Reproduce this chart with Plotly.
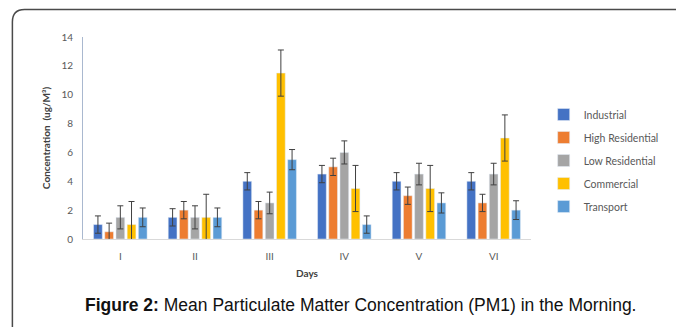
import plotly.graph_objects as go

days = ["I", "II", "III", "IV", "V", "VI"]
series_names = ["Industrial", "High Residential", "Low Residential", "Commercial", "Transport"]
industrial = [1.0, 1.5, 4.0, 4.5, 4.0, 4.0]
high_res = [0.5, 2.0, 2.0, 5.0, 3.0, 2.5]
low_res = [1.5, 1.5, 2.5, 6.0, 4.5, 4.5]
commercial = [1.0, 1.5, 11.5, 3.5, 3.5, 7.0]
transport = [1.5, 1.5, 5.5, 1.0, 2.5, 2.0]
err_industrial = [0.6, 0.6, 0.6, 0.6, 0.6, 0.6]
err_high_res = [0.6, 0.6, 0.6, 0.6, 0.6, 0.6]
err_low_res = [0.8, 0.8, 0.75, 0.8, 0.75, 0.75]
err_commercial = [1.6, 1.6, 1.6, 1.6, 1.6, 1.6]
err_transport = [0.65, 0.65, 0.7, 0.6, 0.7, 0.65]
colors = ["#4472C4", "#ED7D31", "#A5A5A5", "#FFC000", "#5B9BD5"]
y_ticks = [0, 2, 4, 6, 8, 10, 12, 14]

values = [industrial, high_res, low_res, commercial, transport]
errors = [err_industrial, err_high_res, err_low_res, err_commercial, err_transport]

fig = go.Figure()
for name, vals, errs, col in zip(series_names, values, errors, colors):
    fig.add_trace(go.Bar(
        x=days, y=vals, name=name, marker_color=col, legendgroup=name,
        error_y=dict(type="data", array=errs, color="#404040", thickness=1, width=3),
    ))

W, H = 676, 327
L, R, T, B = 83, 133, 37, 88
pw, ph = W - L - R, H - T - B

def xp(px):
    return (px - L) / pw

def yp(py):
    return 1 - (py - T) / ph

frame = (f"M {xp(10.5)},{yp(340)} L {xp(10.5)},{yp(22)} "
         f"Q {xp(10.5)},{yp(9.5)} {xp(23)},{yp(9.5)} L {xp(700)},{yp(9.5)}")

fig.update_layout(
    width=W, height=H,
    margin=dict(l=L, r=R, t=T, b=B),
    paper_bgcolor="white", plot_bgcolor="white",
    barmode="group", bargap=0.25, bargroupgap=0.22,
    font=dict(family="Lato", size=10, color="#595959"),
    showlegend=True,
    legend=dict(x=xp(556), y=yp(100), xanchor="left", yanchor="top",
                font=dict(size=10.5, color="#595959"), tracegroupgap=4,
                itemwidth=30),
    xaxis=dict(showline=True, linecolor="#D9D9D9", linewidth=1, ticks="",
               tickfont=dict(size=10, color="#595959"), ticklabelstandoff=8,
               title=dict(text="<b>Days</b>", font=dict(size=10, color="#404040"), standoff=8)),
    yaxis=dict(range=[0, 14], tickvals=y_ticks, showgrid=False, zeroline=False,
               showline=True, linecolor="#A9B8CF", linewidth=1, ticks="",
               tickfont=dict(size=10, color="#595959"), ticklabelstandoff=7,
               title=dict(text="<b>Concentration  (ug/M³)</b>", font=dict(size=10, color="#404040"), standoff=8)),
    shapes=[dict(type="path", path=frame, xref="paper", yref="paper",
                 line=dict(color="#4a4a4a", width=1.5))],
    annotations=[dict(text="<b>Figure 2:</b> Mean Particulate Matter Concentration (PM1) in the Morning.",
                      x=xp(368), y=yp(305), xref="paper", yref="paper", showarrow=False,
                      xanchor="center", yanchor="middle",
                      font=dict(family="Liberation Sans", size=17.5, color="#111111"))],
)

fig.write_html("out.html")
